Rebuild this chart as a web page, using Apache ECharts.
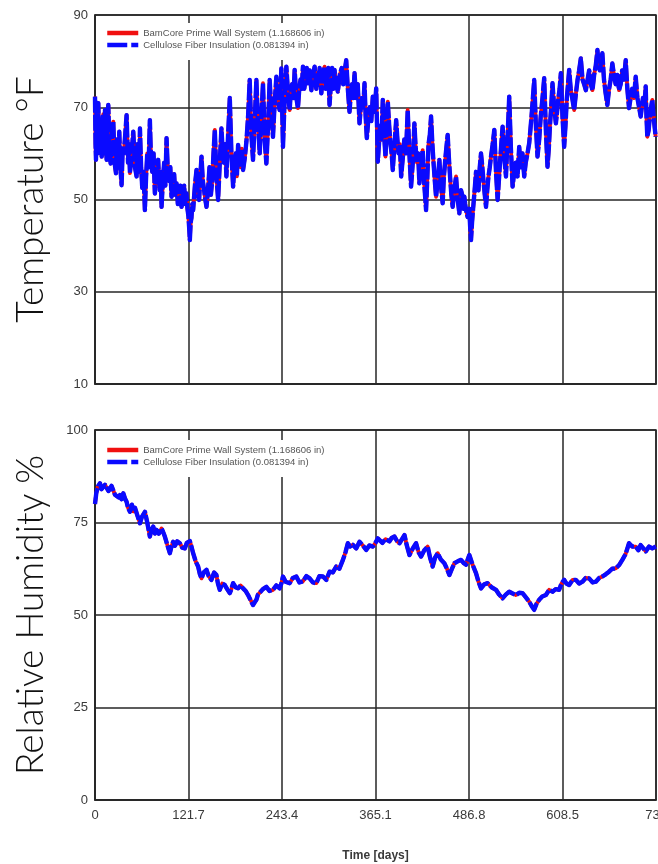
<!DOCTYPE html>
<html>
<head>
<meta charset="utf-8">
<script src="https://cdn.jsdelivr.net/npm/echarts@6/dist/echarts.min.js"></script>
<style>
html,body{margin:0;padding:0;background:#fff;}
#chart{width:658px;height:864px;}
</style>
</head>
<body>
<div id="chart"></div>
<script>
// ---- Data ----
const seriesNames = ['BamCore Prime Wall System (1.168606 in)', 'Cellulose Fiber Insulation (0.081394 in)'];
const xTickLabels = ['0', '121.7', '243.4', '365.1', '486.8', '608.5', '730'];
const tempTicks = [10, 30, 50, 70, 90];
const humidityTicks = [0, 25, 50, 75, 100];

// Temperature [day, °F]
const bamcoreTemp = [[0,72.3],[0.7,62],[1.3,58.6],[2.2,71],[2.8,68],[3.5,60],[4.3,70.9],[5.4,63],[6.5,60.5],[7.6,67],[8.7,59.3],[9.8,66],[10.8,68.5],[11.9,60],[13,69.4],[14.1,62],[15.2,58.6],[16.2,67],[17.3,70.5],[18.8,61],[20.4,57.8],[22,64],[23.8,66.9],[25.5,58],[27.3,55.7],[28.4,63],[29.5,62],[30.5,57],[31.6,64.7],[33,57],[34.6,53.1],[36,61],[37.5,60],[39.3,64],[41.1,68.3],[43,58],[44.2,62],[45.5,55.7],[47.6,60],[49.8,64.7],[52,57],[54.1,55],[55.3,62],[56.5,61],[57.5,56],[58.5,65.4],[60,57],[61.5,52.5],[63.2,56],[64.9,47.7],[66.5,55],[68,60],[69.7,57],[71.4,67.2],[73,58],[74.5,56],[76.2,60],[77.9,51.3],[80,55],[82.2,58.6],[83.4,54],[84.5,52],[85.5,56],[86.6,48.4],[88.3,54],[90,58],[91.5,53],[93.1,63.3],[94.8,56],[96.5,54],[98,57],[99.6,50.6],[101.3,54],[103,55.5],[104.5,51],[106.1,53.5],[107.8,49],[109.5,50],[111,53],[112.6,48.4],[114.3,50],[116,53],[117.5,49],[119.1,51.3],[120.3,48],[121.5,46.5],[122.5,44],[123.4,41.2],[124.5,45],[125.5,46],[126.6,49],[127.7,47.7],
[130,53],[132.1,56.4],[133.8,51],[135.5,49.9],[137,55],[138.6,59.3],[140.3,54],[142,52],[143.5,50],[145.1,48.4],[147,52],[149,57],[150.8,51],[152.5,54],[154.2,60],[155.9,65.1],[158,55],[160.2,49.9],[162.4,58],[164.5,65.4],[166,61],[167.5,58],[169.3,62],[171,55],[173.2,64],[175.4,72],[177.5,60],[179.7,52.8],[181.4,57],[183,60],[184.6,55],[186.2,61.8],[187.9,59],[189.5,57],[191,61],[192.7,56.4],[194.9,59],[197,62.5],[199.2,68],[201.3,75.9],[203.5,64],[205.6,58.6],[207.8,67],[210,75.9],[212.2,66],[214.3,60],[216.5,68],[218.6,75.2],[220.8,63],[223,57.8],[225.2,66],[227.3,75.9],[229.5,69],[231.6,63.6],[233.8,71],[236,76.6],[238.2,71],[240.3,69.4],[242.5,78.4],[244.6,61.4],[246.8,72],[249,78.8],
[251.2,73],[253.3,69.4],[255,74],[256.5,75],[258.2,72],[259.8,78.1],[262,72],[264.1,69.8],[265.8,74],[267.5,76],[269,74],[270.6,78.8],[272.3,74],[274,76],[275.5,78.5],[277.1,75.2],[279.3,78],[281.5,73.7],[283.7,77],[285.8,78.8],[288,74],[290,76],[292.3,78.5],[294.5,73],[296.6,77],[298.7,78.8],[300.3,74],[302,76.5],[303.6,78.5],[305.2,70.5],[307,75],[308.5,78.5],[310,74],[311.7,78.1],[313.8,75],[316,73.4],[318.5,77],[321,78.5],[323,75],[325,78],[326.9,80.2],[329,74],[331.2,69],[332.9,73],[334.5,75],[336,72],[337.7,77.4],[339.8,72],[341.9,75],[344.2,66.5],[345.9,70],[347.5,72],[349,70],[350.7,75.2],[352.2,68],[353.7,63.3],[355.5,67],[357.5,70],[359.5,67],
[361.5,72.3],[363.7,69],[365.9,74.1],[367,66],[368,58.2],[369.5,62],[371,66],[372.8,63],[374.5,71.6],[376.2,64],[378,59.3],[379.5,65],[381,71.2],[382.8,66],[384.5,62],[386,60],[387.5,56.4],[389.7,62],[391.9,67.2],[393.5,63],[395,60],[396.7,62],[398.4,55],[400.5,59],[402.5,63],[404.7,60],[406.9,69.4],[409.1,60],[411.3,52.8],[413.5,58],[415.6,66.5],[417.3,61],[419,58],[420.5,60],[422.1,53.5],[424.3,57],[426.4,60.7],[428.6,53],[430.8,47.7],[432.5,55],[434,62],[435.7,64],[437.3,68],[439,62],[440.5,58],[442.2,54],[443.8,50.6],[446,54],[448.1,58.6],[450.2,53],[452.4,49.2],[454,55],[456.5,60],[458.9,64],[460.5,59],[462,55],[463.7,51],[465.4,48.4],[467.6,52],[469.8,55],[472,50],[474.1,47],[476.3,52],[478.4,50.6],[479.5,48],[480.6,50.6],[481.7,49],[482.8,47.7],[484.9,46.2],[487,48],[488.2,44],[489.3,41.2],[490.6,45],[492,48],
[494,52],[495.8,56],[497.4,54],[499,52],[500.7,57],[502.3,60],[504,57],[505.5,54],[507.2,51],[508.8,48.4],[510.4,52],[512,55],[513.7,57],[515.3,59.3],[517.5,62],[519.6,65.1],[521.8,56],[523.9,49.9],[525.5,54],[527,58],[528.7,62],[530.4,65.8],[532.6,59],[534.8,55],[537,64],[539,72.3],[541.2,61],[543.4,52.8],[545.5,56],[547.5,58],[549.8,55],[552,61.4],[554,57],[556.2,60],[558.5,55],[560.5,58],[562.8,60],[565,62.2],[566.5,65],[568,68],[569.8,72],[571.5,75.9],[573.7,66],[575.8,59.3],[578,63],[580,68],[582.3,72],[584.5,76.3],[586.7,65],[588.8,57.1],[590.5,61],[592,66],[593.6,70],[595.3,75.2],[597.5,70],[599.7,66.5],[601.3,69],[603,72],[604.6,74],[606.2,77.4],[608.3,68],[610.5,61.4],[612.2,66],[614,72],[615.5,75],[617,78.1],[619,74],[621,72],[623.5,69.4],[625.8,73],[628,76],[630,78],[632.2,80.6],[634.4,76],[636.5,75],[638.7,73.7],[641,76],[643,78],[645.2,75],[647.3,73.7],[649.5,77],[651.6,79],[653.8,82.4],[655.4,79],[657,78],[658.6,80],[660.2,81.7],[662.3,76],[664.5,73],[666.7,70.5],[669,74],[671,76],[673.2,79.5],[675.3,77],[677.5,75],[679.7,77],[681.9,73.7],[684,75],[686,78],[688.3,76],[690.6,80.2],[692.7,74],[694.9,69.8],[697,72],[699,74],[701.3,72],[703.6,76.6],[705.8,72],[708,70],[710.1,68],[711.5,70],[713,72],[714.8,70],[716.6,74.5],[717.6,68],[718.7,63.6],[720.4,65],[722,68],[723.6,70],[725.2,71.6],[727.4,67],[729.6,63.6]];
// The two temperature curves coincide in the picture
const celluloseTemp = bamcoreTemp;

// Relative humidity [day, %]
const bamcoreRH = [[0,80],[1.7,83],[4,84.8],[6.5,85.6],[8.5,84],[10.8,84.5],[13,85.2],[15.2,84.7],[17.5,83.5],[19.5,83.8],[21.5,84.9],[23.8,84.4],[26,82.5],[28.1,83],[30.5,81.8],[32.5,82.4],[34.5,81.3],[36.8,82.9],[39,81.5],[41.1,80.6],[43,79],[45.5,77.9],[48,79.8],[50,78],[52,79],[55,77],[58.5,74.8],[61,76.5],[63,76],[65,77.9],[68,75],[71.4,71.2],[73.5,73],[75.8,73.9],[78,72],[80.1,73],[83,72],[86.6,73.4],[88.5,72.5],[90.9,71.2],[94,69],[97.4,66.7],[99.5,68.5],[101.7,69.8],[104,68.7],[107,69.9],[110.4,69.4],[113.5,68.2],[116.9,68],[119.5,69.5],[123.4,70],[125.5,68.5],[127.7,66.7],[131,64.5],[134.2,63.1],[136.5,61],[138.6,59.9],[141.5,61.5],[145.1,62.2],[148,60.5],[151.5,59.5],[155,61.5],[158,60.8],[160,58.5],[162.4,56.8],[165.5,58.5],[168.9,58.1],[172,57],[175.4,55.9],[177.5,57],[179.7,58.6],[183,57.5],[186.2,57.2],[189.5,58],[192.7,57.2],[196,56.5],[199.2,55.4],[202.5,54],[205.6,52.7],[208,53.5],[210,54.1],[212,55.5],[214.3,55.4],[218.5,57],[223,57.6],[227,56.5],[231.6,56.8],[236,58],[240.3,57.2],[242.5,58.5],[244.6,60.4],[248,59],[253.3,58.6],[257.5,60],[262,60.4],[266,58.8],[270.6,59.1],[275,60.5],[279.3,59.9],[283.5,58.8],[287.9,58.6],[292,60.5],[296.6,60.4],[301,59.5],[305.2,61.7],[309.5,61.5],[313.9,63.1],[318,62.5],[322.6,64.9],[326,67],[329,69.4],[332,68.5],[335.5,69],[340,68],[344.2,69.8],[348.5,68.8],[352.9,67.6],[357,68.8],[361.5,68.5],[365,69.5],[368,70.7],[370.2,70.3],[374,69.5],[378,70.5],[383.2,69.9],[386,70.8],[389.7,71.2],[393,70],[396.2,69.4],[399.5,70.5],[402.7,71.6],[405.5,69],[409.2,66.2],[413.5,68],[417.8,69.4],[421,67],[424.3,65.8],[428.5,67.5],[432.9,68.5],[436,65.5],[439.4,63.1],[442.5,65.5],[445.9,66.7],[450,65],[454.6,64],[458,62.5],[461.1,60.8],[464.5,62.5],[467.6,64],[472,64.5],[476.3,64.9],[480,64],[482.8,63.6],[485,65],[487.1,66.2],[491.5,63.5],[495.8,61.3],[499,59],[502.3,57.2],[506.5,58.3],[510.9,58.6],[516,57.5],[521.8,56.8],[526,55.5],[530.3,54.5],[534.5,55.5],[539,56.3],[543.5,55.8],[547.7,55.4],[552,56],[556.3,55.9],[560.5,54.8],[565,53.6],[568,52.5],[571.5,51.4],[574.5,53],[578,54.1],[582,55],[586.7,55.4],[591,56.8],[595.3,56.3],[599.5,57],[604,56.8],[607,58.5],[610.5,59.5],[613.5,58.5],[617,58.1],[621.5,59.5],[625.7,59.5],[630,58.5],[634.3,59],[638.5,60],[643,59.9],[647.5,58.8],[651.7,59],[656,60],[660.2,60.4],[664.5,61],[668.9,61.7],[673,62.5],[677.6,62.6],[682,63.5],[686.2,64.9],[690.5,66.5],[694.9,69.4],[699,68.5],[703.6,68.5],[707,67.5],[710,68.9],[713.5,68],[716.6,67.2],[721,68.5],[725.2,68],[730,68.5]];
// The two humidity curves coincide in the picture
const celluloseRH = bamcoreRH;

// ---- Chart ----
const RED = '#f01010';
const BLUE = '#0a0aff';
const GRID_COLOR = '#262626';
const LABEL_COLOR = '#3a3a3a';
const xInterval = 121.7;

const chart = echarts.init(document.getElementById('chart'), null, {renderer: 'canvas'});

function xAxisFor(gridIndex, showLabels, name) {
  return {
    type: 'value', gridIndex: gridIndex, min: 0, max: 730, interval: xInterval,
    axisLine: {show: true, lineStyle: {color: GRID_COLOR, width: 1.5}},
    axisTick: {show: false},
    splitLine: {show: true, lineStyle: {color: GRID_COLOR, width: 1.5}},
    axisLabel: {
      show: showLabels, color: LABEL_COLOR, fontSize: 13, fontFamily: 'Liberation Sans, Arial', margin: 9,
      formatter: function (v) { return xTickLabels[Math.round(v / xInterval)]; }
    },
    name: name, nameLocation: 'middle', nameGap: 50,
    nameTextStyle: {color: '#3a3a3a', fontSize: 12, fontWeight: 'bold', fontFamily: 'Liberation Sans, Arial'}
  };
}
function yAxisFor(gridIndex, ticks, name) {
  return {
    type: 'value', gridIndex: gridIndex, min: ticks[0], max: ticks[ticks.length - 1],
    interval: ticks[1] - ticks[0],
    axisLine: {show: true, lineStyle: {color: GRID_COLOR, width: 1.5}},
    axisTick: {show: false},
    splitLine: {show: true, lineStyle: {color: GRID_COLOR, width: 1.5}},
    axisLabel: {color: LABEL_COLOR, fontSize: 13, fontFamily: 'Liberation Sans, Arial', margin: 7},
    name: name, nameLocation: 'middle', nameRotate: 90, nameGap: 45,
    nameTextStyle: {color: '#111', fontSize: 37, fontFamily: 'Lato', fontWeight: 300}
  };
}
function legendFor(top) {
  return {
    orient: 'vertical', left: 99, top: top, padding: [5, 10, 10, 6], itemGap: 2,
    itemWidth: 31, itemHeight: 5, backgroundColor: '#fff',
    textStyle: {color: '#555', fontSize: 9.5, fontFamily: 'Liberation Sans, Arial'},
    data: [
      {name: seriesNames[0], lineStyle: {color: RED, width: 4.5, type: 'solid'}},
      {name: seriesNames[1], lineStyle: {color: BLUE, width: 4.5, type: [20, 4]}}
    ]
  };
}
function lineSeries(name, data, idx, color, dashed) {
  return {
    name: name, type: 'line', xAxisIndex: idx, yAxisIndex: idx, data: data,
    symbol: 'none', showSymbol: false, smooth: false,
    lineStyle: {color: color, width: dashed ? 4.4 : 3.8, type: dashed ? [16, 2] : 'solid', join: 'round'},
    itemStyle: {color: color},
    emphasis: {disabled: true}
  };
}

const gridCommon = {left: 95, right: 2, show: true, borderColor: GRID_COLOR, borderWidth: 1.5,
  backgroundColor: '#fff', containLabel: false, outerBoundsMode: 'none'};

chart.setOption({
  animation: false,
  backgroundColor: '#fff',
  grid: [
    Object.assign({top: 15, height: 369}, gridCommon),
    Object.assign({top: 430, height: 370}, gridCommon)
  ],
  legend: [legendFor(23), legendFor(440)],
  xAxis: [xAxisFor(0, false, ''), xAxisFor(1, true, 'Time [days]')],
  yAxis: [yAxisFor(0, tempTicks, 'Temperature °F'), yAxisFor(1, humidityTicks, 'Relative Humidity %')],
  series: [
    lineSeries(seriesNames[0], bamcoreTemp, 0, RED, false),
    lineSeries(seriesNames[1], celluloseTemp, 0, BLUE, true),
    lineSeries(seriesNames[0], bamcoreRH, 1, RED, false),
    lineSeries(seriesNames[1], celluloseRH, 1, BLUE, true)
  ]
});
</script>
</body>
</html>
